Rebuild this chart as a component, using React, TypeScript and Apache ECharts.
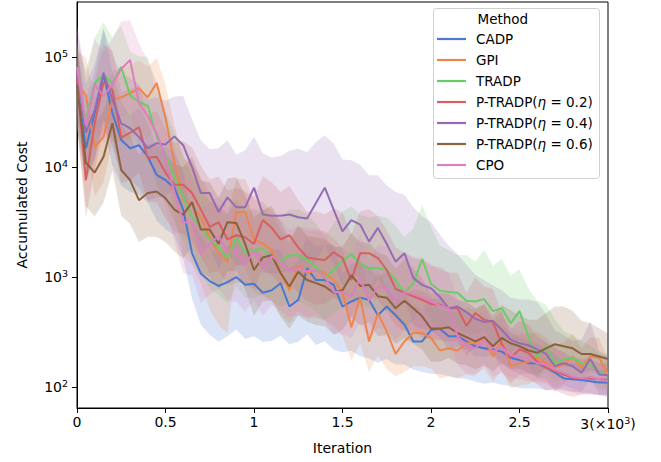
import React, { useEffect, useRef } from "react";
import * as echarts from "echarts";

const iterations = [0, 50, 100, 150, 200, 250, 300, 350, 400, 450, 500, 550, 600, 650, 700, 750, 800, 850, 900, 950, 1000, 1050, 1100, 1150, 1200, 1250, 1300, 1350, 1400, 1450, 1500, 1550, 1600, 1650, 1700, 1750, 1800, 1850, 1900, 1950, 2000, 2050, 2100, 2150, 2200, 2250, 2300, 2350, 2400, 2450, 2500, 2550, 2600, 2650, 2700, 2750, 2800, 2850, 2900, 2950, 3000];

const methods = ["CADP", "GPI", "TRADP", "P-TRADP(η = 0.2)", "P-TRADP(η = 0.4)", "P-TRADP(η = 0.6)", "CPO"];
const colors = ["#4878d0", "#ee854a", "#6acc64", "#d65f5f", "#956cb4", "#8c613c", "#dc7ec0"];

// mean accumulated cost
const cadp = [56000, 14800, 31000, 69000, 31000, 17600, 14800, 15800, 12400, 8500, 7600, 6500, 4100, 1650, 1070, 920, 830, 900, 1000, 850, 870, 720, 760, 880, 540, 620, 1200, 940, 940, 850, 540, 600, 650, 620, 450, 540, 450, 370, 260, 260, 330, 340, 290, 290, 260, 235, 225, 220, 210, 185, 176, 165, 165, 150, 135, 120, 118, 116, 113, 110, 110];
const gpi = [56000, 45000, 15200, 18800, 41000, 43000, 47000, 52000, 43000, 58000, 28000, 11000, 5000, 4500, 3500, 2300, 1650, 1380, 3900, 3900, 2200, 2000, 1760, 1100, 760, 1280, 1090, 1160, 1090, 940, 730, 350, 650, 260, 470, 320, 200, 260, 310, 310, 280, 215, 225, 215, 250, 250, 280, 190, 260, 155, 165, 170, 185, 165, 150, 160, 190, 150, 190, 185, 130];
const tradp = [56000, 27000, 58000, 69000, 58000, 81000, 45000, 39000, 36000, 18800, 12800, 8100, 5300, 3500, 2800, 2200, 1860, 1490, 2300, 1680, 1760, 1820, 1490, 1380, 1580, 1580, 1430, 1230, 980, 1160, 1400, 1620, 1310, 1200, 1200, 1160, 940, 720, 870, 1460, 870, 750, 730, 720, 610, 600, 630, 490, 520, 380, 490, 290, 190, 235, 165, 180, 185, 165, 160, 135, 130];
const ptradp02 = [62000, 7600, 25000, 59000, 50000, 18500, 20500, 23000, 12100, 12400, 8900, 6900, 6900, 5800, 4100, 2850, 3150, 2200, 2400, 2300, 2000, 3300, 2800, 2200, 2400, 1860, 1510, 1460, 1430, 1680, 1490, 940, 1650, 1650, 1490, 1160, 780, 720, 670, 620, 570, 560, 520, 520, 360, 470, 410, 390, 245, 185, 220, 205, 170, 150, 140, 130, 122, 120, 120, 118, 116];
const ptradp04 = [76000, 20500, 33000, 72000, 41000, 25000, 22500, 18800, 14800, 16500, 16000, 19000, 15800, 10000, 5800, 5800, 3900, 5300, 4300, 4300, 6500, 3700, 3600, 3600, 3700, 3500, 3400, 4700, 6500, 4100, 2600, 3300, 3000, 2100, 2800, 2000, 1380, 1650, 980, 850, 790, 660, 520, 540, 480, 420, 390, 400, 330, 270, 250, 240, 220, 200, 155, 165, 155, 135, 180, 130, 128];
const ptradp06 = [56000, 11000, 8900, 12400, 25000, 9400, 7600, 5000, 5800, 6000, 5200, 4100, 3700, 4800, 2700, 2700, 2000, 3150, 3100, 2000, 1160, 1510, 1580, 1090, 820, 1120, 940, 880, 820, 720, 760, 1040, 830, 850, 670, 650, 520, 610, 520, 440, 340, 340, 350, 310, 285, 260, 285, 235, 280, 250, 235, 215, 205, 225, 245, 235, 225, 200, 200, 190, 180];
const cpo = [81000, 24000, 56000, 44000, 57000, 78000, 94000, 38000, 29000, 20500, 12100, 5900, 3150, 3100, 1620, 2000, 2350, 1720, 1720, 1310, 1720, 1200, 1550, 1350, 1130, 1200, 1130, 1160, 1000, 730, 730, 670, 980, 610, 820, 780, 610, 730, 700, 650, 600, 550, 520, 290, 235, 225, 270, 210, 230, 195, 190, 180, 165, 160, 143, 135, 124, 120, 124, 118, 113];

// band: upper bound / mean
const cadpUp = [2.2, 2.8, 2.4, 2.6, 2.4, 2.2, 2.0, 2.2, 2.0, 1.9, 2.0, 2.1, 2.2, 2.0, 2.2, 2.0, 1.9, 2.1, 2.3, 2.0, 2.2, 2.1, 2.4, 2.0, 2.2, 2.3, 1.9, 2.0, 2.1, 2.3, 2.0, 2.2, 2.1, 2.0, 2.2, 2.1, 2.0, 1.9, 2.1, 2.0, 1.9, 1.9, 1.8, 1.9, 1.8, 1.8, 1.7, 1.8, 1.7, 1.7, 1.6, 1.6, 1.5, 1.5, 1.5, 1.4, 1.4, 1.4, 1.3, 1.3, 1.3];
const gpiUp = [2.0, 2.2, 2.8, 2.6, 1.8, 1.9, 1.8, 1.8, 1.9, 1.7, 2.0, 2.2, 2.4, 2.4, 2.3, 2.5, 2.6, 2.7, 2.0, 2.0, 2.3, 2.4, 2.3, 2.4, 2.6, 2.3, 2.4, 2.3, 2.4, 2.4, 2.5, 2.7, 2.3, 2.8, 2.4, 2.6, 2.9, 2.6, 2.5, 2.4, 2.4, 2.3, 2.2, 2.2, 2.1, 2.0, 2.0, 2.1, 1.9, 1.9, 1.8, 1.8, 1.7, 1.7, 1.6, 1.6, 1.6, 1.5, 1.5, 1.5, 1.4];
const tradpUp = [2.4, 2.8, 2.6, 3.0, 2.6, 2.4, 2.5, 2.6, 2.8, 2.6, 2.5, 2.6, 2.4, 2.4, 2.3, 2.2, 2.4, 2.5, 2.2, 2.4, 2.3, 2.3, 2.4, 2.5, 2.6, 2.6, 2.6, 2.5, 2.4, 2.6, 2.8, 2.7, 2.8, 2.9, 3.0, 3.0, 3.1, 3.2, 3.2, 3.1, 3.3, 2.6, 2.4, 2.2, 2.6, 2.3, 2.8, 2.6, 2.8, 2.7, 2.4, 2.7, 3.2, 2.4, 2.5, 1.8, 1.6, 1.6, 1.5, 1.5, 1.5];
const ptradp02Up = [2.4, 2.6, 2.4, 2.2, 2.3, 2.6, 2.5, 2.4, 2.5, 2.6, 2.5, 2.4, 2.5, 2.6, 2.5, 2.7, 2.6, 2.8, 2.7, 2.6, 2.7, 2.5, 2.6, 2.7, 2.8, 2.7, 2.6, 2.7, 2.6, 2.5, 2.6, 2.6, 2.4, 2.5, 2.4, 2.3, 2.4, 2.3, 2.2, 2.3, 2.2, 2.2, 2.1, 2.1, 2.0, 2.1, 2.0, 2.0, 1.9, 1.8, 1.8, 1.8, 1.7, 1.7, 1.6, 1.6, 1.5, 1.5, 1.5, 1.4, 1.4];
const ptradp04Up = [2.4, 2.8, 2.6, 2.5, 2.6, 2.8, 2.9, 3.0, 2.8, 2.6, 2.5, 2.3, 2.8, 2.7, 3.0, 2.5, 3.8, 3.3, 3.0, 3.3, 2.9, 3.6, 3.4, 3.5, 3.8, 4.2, 4.0, 3.6, 3.0, 4.0, 4.5, 3.5, 3.5, 4.0, 3.0, 3.4, 4.3, 3.4, 4.4, 4.2, 4.0, 3.7, 3.7, 3.0, 2.7, 2.5, 2.4, 2.1, 2.3, 2.4, 2.5, 2.6, 2.7, 2.3, 2.1, 1.8, 1.7, 2.0, 2.2, 1.65, 1.5];
const ptradp06Up = [2.4, 2.6, 2.8, 2.6, 2.4, 2.6, 2.5, 2.6, 2.8, 2.7, 2.5, 2.6, 2.7, 2.6, 2.8, 2.7, 2.6, 2.5, 2.6, 2.8, 3.0, 2.7, 2.8, 2.9, 2.7, 2.6, 2.5, 2.6, 2.7, 2.6, 2.5, 2.4, 2.5, 2.4, 2.5, 2.4, 2.3, 2.4, 2.3, 2.2, 2.1, 2.1, 2.0, 2.0, 2.1, 2.0, 2.0, 1.9, 2.0, 2.0, 1.9, 1.9, 2.0, 2.1, 2.2, 2.3, 2.2, 2.0, 1.9, 1.8, 1.7];
const cpoUp = [2.4, 2.8, 2.6, 2.5, 2.6, 2.7, 2.3, 3.5, 3.2, 2.9, 2.6, 2.6, 2.5, 2.5, 2.6, 2.4, 2.3, 2.5, 2.4, 2.6, 2.5, 2.6, 2.4, 2.5, 2.4, 2.4, 2.5, 2.4, 2.5, 2.6, 2.5, 2.4, 2.5, 2.3, 2.4, 2.4, 2.3, 2.3, 2.2, 2.3, 2.2, 2.1, 2.1, 2.2, 2.0, 1.9, 1.9, 1.8, 1.9, 1.8, 1.7, 1.7, 1.6, 1.6, 1.6, 1.5, 1.5, 1.5, 1.4, 1.4, 1.4];

// band: mean / lower bound
const cadpDown = [2.5, 2.0, 2.6, 2.8, 3.0, 2.6, 2.5, 2.8, 2.6, 2.6, 2.8, 2.7, 2.8, 2.6, 2.9, 3.1, 3.2, 3.1, 3.0, 3.1, 3.0, 2.8, 2.9, 3.0, 2.2, 2.4, 4.0, 3.9, 3.6, 3.9, 2.6, 2.8, 3.4, 3.4, 2.7, 3.0, 2.8, 2.3, 1.8, 1.9, 2.5, 2.6, 2.3, 2.4, 2.2, 2.1, 2.1, 2.0, 2.0, 1.8, 1.8, 1.7, 1.7, 1.6, 1.4, 1.3, 1.3, 1.3, 1.3, 1.3, 1.3];
const gpiDown = [2.2, 2.5, 2.8, 2.6, 2.4, 2.5, 2.6, 2.5, 2.4, 2.4, 2.8, 3.0, 3.2, 3.5, 4.0, 4.5, 4.5, 4.5, 3.0, 3.2, 3.0, 3.0, 2.8, 2.4, 2.0, 2.6, 2.6, 2.7, 2.7, 2.6, 2.5, 2.0, 2.6, 1.9, 2.4, 2.2, 1.6, 1.9, 2.0, 2.0, 1.9, 1.8, 1.8, 1.8, 1.9, 1.9, 1.9, 1.7, 1.8, 1.6, 1.6, 1.6, 1.6, 1.5, 1.5, 1.5, 1.5, 1.4, 1.4, 1.4, 1.4];
const tradpDown = [2.5, 2.6, 2.8, 2.6, 2.5, 2.7, 2.6, 2.5, 2.7, 2.8, 2.6, 2.6, 2.5, 2.6, 2.6, 2.8, 2.7, 2.6, 2.8, 2.6, 2.7, 2.6, 2.5, 2.6, 2.7, 2.6, 2.6, 2.5, 2.4, 2.5, 2.6, 2.5, 2.4, 2.3, 2.4, 2.3, 2.2, 2.1, 2.2, 2.6, 2.2, 2.2, 2.1, 2.1, 2.0, 2.0, 1.9, 2.0, 1.9, 1.9, 1.8, 1.8, 1.6, 1.7, 1.5, 1.5, 1.5, 1.4, 1.4, 1.4, 1.4];
const ptradp02Down = [2.6, 2.2, 2.6, 2.8, 2.8, 2.6, 2.7, 2.6, 2.5, 2.6, 2.6, 2.7, 2.8, 2.8, 2.7, 2.6, 2.8, 2.6, 2.7, 2.6, 2.6, 2.8, 2.7, 2.6, 2.7, 2.6, 2.5, 2.6, 2.5, 2.6, 2.5, 2.2, 2.6, 2.5, 2.4, 2.4, 2.2, 2.2, 2.1, 2.2, 2.1, 2.1, 2.0, 2.0, 1.9, 2.0, 1.9, 1.9, 1.8, 1.7, 1.7, 1.7, 1.6, 1.6, 1.5, 1.5, 1.5, 1.4, 1.4, 1.4, 1.4];
const ptradp04Down = [2.5, 2.6, 2.8, 2.6, 2.7, 2.8, 3.0, 2.9, 3.0, 3.1, 3.0, 2.9, 3.0, 3.0, 3.2, 3.1, 3.3, 3.2, 3.4, 3.3, 3.2, 3.4, 3.3, 3.3, 3.2, 3.3, 3.2, 3.4, 3.3, 3.2, 3.1, 3.2, 3.0, 3.0, 2.9, 2.8, 2.8, 2.6, 2.7, 2.5, 2.4, 2.3, 2.4, 2.3, 2.2, 2.2, 2.1, 2.0, 2.0, 1.9, 1.9, 1.8, 1.8, 1.7, 1.7, 1.6, 1.6, 1.5, 1.5, 1.5, 1.5];
const ptradp06Down = [2.4, 2.5, 2.5, 2.6, 2.7, 2.6, 2.5, 2.4, 2.5, 2.6, 2.5, 2.4, 2.5, 2.6, 2.5, 2.7, 2.6, 2.8, 2.7, 2.6, 2.6, 2.5, 2.6, 2.5, 2.4, 2.5, 2.4, 2.4, 2.3, 2.4, 2.3, 2.4, 2.3, 2.2, 2.3, 2.2, 2.1, 2.2, 2.1, 2.0, 2.0, 2.0, 1.9, 1.9, 1.8, 1.8, 1.8, 1.7, 1.7, 1.7, 1.6, 1.6, 1.6, 1.5, 1.5, 1.5, 1.5, 1.5, 1.4, 1.4, 1.4];
const cpoDown = [2.5, 2.4, 2.6, 2.7, 2.6, 2.8, 2.9, 2.7, 2.6, 2.7, 2.8, 2.8, 2.9, 3.0, 2.8, 2.9, 3.0, 2.8, 2.9, 2.7, 2.8, 2.7, 2.8, 2.7, 2.6, 2.7, 2.6, 2.6, 2.5, 2.4, 2.4, 2.4, 2.5, 2.3, 2.4, 2.3, 2.3, 2.2, 2.2, 2.1, 2.1, 2.0, 2.0, 1.8, 1.8, 1.8, 1.7, 1.7, 1.7, 1.6, 1.6, 1.6, 1.5, 1.5, 1.5, 1.4, 1.4, 1.4, 1.4, 1.4, 1.4];

const xTickLabels = ["0", "0.5", "1", "1.5", "2", "2.5", "3(×10{s|3})"];
const yTickExponents = [2, 3, 4, 5];

const means = [cadp, gpi, tradp, ptradp02, ptradp04, ptradp06, cpo];
const ups = [cadpUp, gpiUp, tradpUp, ptradp02Up, ptradp04Up, ptradp06Up, cpoUp];
const downs = [cadpDown, gpiDown, tradpDown, ptradp02Down, ptradp04Down, ptradp06Down, cpoDown];

const FONT = "DejaVu Sans";

export default function App() {
  const ref = useRef<HTMLDivElement>(null);
  useEffect(() => {
    document.body.style.margin = "0";
    const chart = echarts.init(ref.current!, null, { renderer: "svg" });
    const series: any[] = [];
    methods.forEach((m, k) => {
      const mean = means[k];
      const lo = mean.map((v, i) => Math.log10(v / downs[k][i]));
      const hi = mean.map((v, i) => Math.log10(v * ups[k][i]));
      series.push({
        type: "custom",
        name: m + " band",
        silent: true,
        clip: true,
        z: 1,
        encode: { x: 0, y: 1 },
        data: [[iterations[0], lo[0]]],
        renderItem: (_params: any, api: any) => {
          const top = iterations.map((x, i) => api.coord([x, hi[i]]));
          const bottom = iterations.map((x, i) => api.coord([x, lo[i]])).reverse();
          return {
            type: "polygon",
            shape: { points: top.concat(bottom) },
            style: { fill: colors[k], opacity: 0.2 },
          };
        },
      });
    });
    methods.forEach((m, k) => {
      series.push({
        type: "line",
        name: m,
        data: iterations.map((x, i) => [x, Math.log10(means[k][i])]),
        symbol: "none",
        itemStyle: { color: colors[k] },
        lineStyle: { color: colors[k], width: 2 },
        z: 3,
      });
    });

    const option: any = {
      animation: false,
      textStyle: { fontFamily: FONT },
      grid: { left: 77, top: 2, width: 531, height: 406, show: true, borderColor: "#000", borderWidth: 1, backgroundColor: "transparent" },
      xAxis: {
        type: "value",
        min: 0,
        max: 3000,
        interval: 500,
        name: "Iteration",
        nameLocation: "middle",
        nameGap: 33,
        nameTextStyle: { fontSize: 14, fontFamily: FONT, color: "#000" },
        axisLine: { show: true, onZero: false, lineStyle: { color: "#000", width: 1 } },
        axisTick: { show: true, length: 5, lineStyle: { color: "#000", width: 1 } },
        splitLine: { show: false },
        axisLabel: {
          fontSize: 14,
          fontFamily: FONT,
          color: "#000",
          margin: 7,
          formatter: (v: number) => xTickLabels[Math.round(v / 500)],
          rich: { s: { fontSize: 9.5, fontFamily: FONT, color: "#000", padding: [0, 0, 8, 0] } },
        },
      },
      yAxis: {
        type: "value",
        min: 1.81,
        max: 5.5,
        name: "Accumulated Cost",
        nameLocation: "middle",
        nameGap: 48,
        nameTextStyle: { fontSize: 14, fontFamily: FONT, color: "#000" },
        axisLine: { show: true, onZero: false, lineStyle: { color: "#000", width: 1 } },
        axisTick: { show: true, length: 5, customValues: yTickExponents, lineStyle: { color: "#000", width: 1 } },
        splitLine: { show: false },
        axisLabel: {
          customValues: yTickExponents,
          fontSize: 14,
          fontFamily: FONT,
          color: "#000",
          margin: 9,
          formatter: (v: number) => `10{s|${Math.round(v)}}`,
          rich: { s: { fontSize: 9.5, fontFamily: FONT, color: "#000", padding: [0, 0, 8, 0] } },
        },
      },
      legend: {
        orient: "vertical",
        left: 432,
        top: 27,
        itemWidth: 29,
        itemHeight: 2.2,
        itemGap: 7,
        icon: "rect",
        z: 6,
        data: methods,
        formatter: (name: string) => name.replace("η", "{i|η}"),
        textStyle: {
          fontSize: 13.5,
          fontFamily: FONT,
          color: "#000",
          lineHeight: 14,
          padding: [0, 0, 0, 5],
          rich: { i: { fontSize: 13.5, fontFamily: FONT, fontStyle: "italic", color: "#000" } },
        },
      },
      graphic: [
        {
          type: "rect",
          z: 5,
          shape: { x: 433.5, y: 8.5, width: 166, height: 170, r: 3 },
          style: { fill: "rgba(255,255,255,0.8)", stroke: "#cfcfcf", lineWidth: 1 },
        },
        {
          type: "text",
          z: 7,
          x: 477.5,
          y: 19,
          style: { text: "Method", fontSize: 13.5, fontFamily: FONT, fill: "#000", verticalAlign: "middle" },
        },
      ],
      series,
    };
    chart.setOption(option);
    return () => chart.dispose();
  }, []);
  return <div ref={ref} style={{ width: 661, height: 462 }} />;
}
